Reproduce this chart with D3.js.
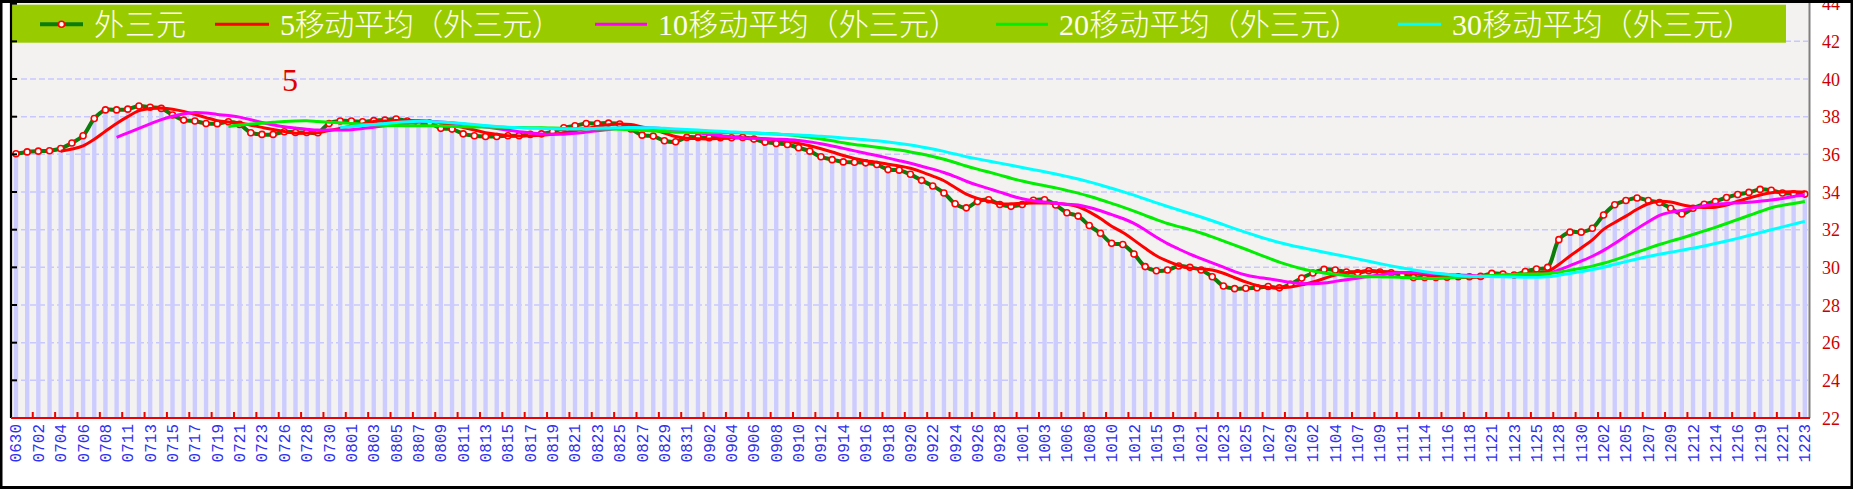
<!DOCTYPE html>
<html><head><meta charset="utf-8">
<script src="https://cdn.jsdelivr.net/npm/d3@7/dist/d3.min.js"></script>
<style>html,body{margin:0;padding:0;background:#fff;overflow:hidden}</style>
</head><body><svg id="c" width="1853" height="489"></svg>
<script>
// ---- data ----
const tickLabels = ["0630","0702","0704","0706","0708","0711","0713","0715","0717","0719","0721","0723","0726","0728","0730","0801","0803","0805","0807","0809","0811","0813","0815","0817","0819","0821","0823","0825","0827","0829","0831","0902","0904","0906","0908","0910","0912","0914","0916","0918","0920","0922","0924","0926","0928","1001","1003","1006","1008","1010","1012","1015","1019","1021","1023","1025","1027","1029","1102","1104","1107","1109","1111","1114","1116","1118","1121","1123","1125","1128","1130","1202","1205","1207","1209","1212","1214","1216","1219","1221","1223"];
const values = [36.03,36.13,36.17,36.19,36.31,36.6,36.99,37.9,38.36,38.36,
38.4,38.57,38.5,38.44,38.09,37.82,37.77,37.64,37.63,37.73,
37.59,37.15,37.06,37.06,37.2,37.16,37.16,37.15,37.64,37.77,
37.77,37.73,37.79,37.82,37.88,37.77,37.66,37.66,37.38,37.34,
37.09,36.99,36.95,36.95,36.99,36.99,37.06,37.09,37.2,37.41,
37.52,37.64,37.64,37.66,37.61,37.35,37.02,36.97,36.72,36.67,
36.9,36.9,36.88,36.88,36.88,36.9,36.81,36.65,36.58,36.52,
36.35,36.17,35.87,35.72,35.6,35.58,35.55,35.46,35.19,35.16,
34.94,34.62,34.32,33.95,33.38,33.16,33.5,33.59,33.34,33.24,
33.34,33.56,33.59,33.31,32.9,32.72,32.22,31.81,31.28,31.21,
30.71,30.04,29.82,29.86,30.07,30.0,29.86,29.5,29.01,28.87,
28.89,28.92,28.98,28.91,29.1,29.43,29.7,29.89,29.86,29.75,
29.71,29.82,29.75,29.71,29.59,29.46,29.46,29.46,29.48,29.5,
29.5,29.52,29.68,29.64,29.59,29.78,29.91,30.0,31.47,31.87,
31.87,32.08,32.78,33.32,33.55,33.68,33.55,33.44,33.14,32.83,
33.14,33.35,33.5,33.71,33.87,33.98,34.14,34.09,33.95,33.91,
33.89];
const maPeriods = [5, 10, 20, 30];
const seriesNames = ["外三元","5移动平均（外三元）","10移动平均（外三元）","20移动平均（外三元）","30移动平均（外三元）"];
const yTickValues = [22,24,26,28,30,32,34,36,38,40,42,44];
const annotation = "5";

// ---- styles ----
const maColors = ["#ff0000","#ff00ff","#00ee00","#00ffff"];
const mainColor = "#0b7d0b";

const svg = d3.select("#c");
const W = 1853, H = 489;
const plotL = 10.4, plotR = 1810.4, plotT = 3.7, plotB = 418;

const categories = d3.range(values.length);
const x = d3.scaleBand().domain(categories).range([plotL, plotR]).padding(0);
const y = d3.scaleLinear().domain([22, 44]).range([plotB, plotT]);
const cx = i => x(i) + x.bandwidth() / 2;

svg.append("rect").attr("width", W).attr("height", H).attr("fill", "#fff");
svg.append("rect").attr("x", 11).attr("y", 3).attr("width", 1798).attr("height", plotB - 3).attr("fill", "#f4f2f1");

// gridlines
svg.append("g").selectAll("line").data(yTickValues.filter(v => v > 22 && v < 44)).join("line")
  .attr("x1", 12).attr("x2", 1808).attr("y1", d => y(d)).attr("y2", d => y(d))
  .attr("stroke", "#c8c8ff").attr("stroke-width", 1.5).attr("stroke-dasharray", "6,3");

// bars
svg.append("g").selectAll("rect").data(values).join("rect")
  .attr("x", (d, i) => cx(i) - 2.2).attr("width", 4.4)
  .attr("y", d => y(d)).attr("height", d => plotB - y(d))
  .attr("fill", "#ccccff");

// main line
const line = d3.line().x((d, i) => cx(i)).y(d => y(d)).curve(d3.curveCatmullRom.alpha(0.5));
svg.append("path").attr("d", line(values)).attr("fill", "none")
  .attr("stroke", mainColor).attr("stroke-width", 4);
svg.append("g").selectAll("circle").data(values).join("circle")
  .attr("cx", (d, i) => cx(i)).attr("cy", d => y(d)).attr("r", 3)
  .attr("fill", "#fff").attr("stroke", "#ff0000").attr("stroke-width", 1.6);

// moving averages (trendlines of the series)
function movingAvg(arr, n) {
  const out = [];
  for (let i = n - 1; i < arr.length; i++) out.push({i, v: d3.mean(arr.slice(i - n + 1, i + 1))});
  return out;
}
const maLine = d3.line().x(d => cx(d.i)).y(d => y(d.v)).curve(d3.curveCatmullRom.alpha(0.5));
maPeriods.forEach((n, k) => {
  svg.append("path").attr("d", maLine(movingAvg(values, n))).attr("fill", "none")
    .attr("stroke", maColors[k]).attr("stroke-width", 3);
});

// legend
const lg = svg.append("g");
lg.append("rect").attr("x", 12).attr("y", 4.7).attr("width", 1774).attr("height", 38).attr("fill", "#99cc00");
const legX = [40, 215, 595, 996, 1398];
const legLen = [43, 54, 52, 52, 43];
const txtLen = [92, 282, 301, 301, 301];
const legY = 24.3;
seriesNames.forEach((name, k) => {
  const x0 = legX[k], x1 = x0 + legLen[k];
  lg.append("line").attr("x1", x0).attr("x2", x1).attr("y1", legY).attr("y2", legY)
    .attr("stroke", k === 0 ? mainColor : maColors[k - 1]).attr("stroke-width", k === 0 ? 4 : 3);
  if (k === 0) lg.append("circle").attr("cx", (x0 + x1) / 2).attr("cy", legY).attr("r", 3)
    .attr("fill", "#fff").attr("stroke", "#ff0000").attr("stroke-width", 1.6);
  lg.append("text").attr("x", x1 + 11).attr("y", 35)
    .attr("textLength", txtLen[k]).attr("lengthAdjust", "spacing")
    .attr("font-family", "'Liberation Serif','Noto Sans CJK SC'").attr("font-weight", 300)
    .attr("font-size", 30).attr("fill", "#fffff2").text(name);
});

// annotation
svg.append("text").attr("x", 290).attr("y", 91).attr("text-anchor", "middle")
  .attr("font-family", "'Liberation Serif'").attr("font-size", 32).attr("fill", "#e00000").text(annotation);

// left axis (black)
svg.append("line").attr("x1", 11).attr("x2", 11).attr("y1", 3).attr("y2", plotB).attr("stroke", "#000").attr("stroke-width", 2.2);
svg.append("g").selectAll("line").data(yTickValues.filter(v => v > 22)).join("line")
  .attr("x1", 11).attr("x2", 17).attr("y1", d => y(d)).attr("y2", d => y(d))
  .attr("stroke", "#000").attr("stroke-width", 2);

// right border (gray)
svg.append("line").attr("x1", 1809.5).attr("x2", 1809.5).attr("y1", 3).attr("y2", plotB).attr("stroke", "#808080").attr("stroke-width", 2);

// bottom axis (red)
svg.append("line").attr("x1", 11).attr("x2", 1810).attr("y1", plotB).attr("y2", plotB).attr("stroke", "#ee0000").attr("stroke-width", 2);
svg.append("g").selectAll("line").data(categories.filter(i => i % 2 === 0 && i > 0)).join("line")
  .attr("x1", d => x(d)).attr("x2", d => x(d)).attr("y1", plotB).attr("y2", plotB - 6)
  .attr("stroke", "#ee0000").attr("stroke-width", 2);

// x labels (every other category)
svg.append("g").selectAll("text").data(tickLabels).join("text")
  .attr("transform", (d, k) => `translate(${cx(k * 2) + 5.5},${plotB + 6}) rotate(-90)`)
  .attr("text-anchor", "end")
  .attr("font-family", "'Liberation Mono'").attr("font-size", 16).attr("fill", "#3030f0").text(d => d);

// right y labels (red)
svg.append("g").selectAll("text").data(yTickValues).join("text")
  .attr("x", 1831).attr("y", d => y(d) + 6.5).attr("text-anchor", "middle")
  .attr("font-family", "'Liberation Serif'").attr("font-size", 18).attr("fill", "#cc0000").text(d => d);

// outer frame
svg.append("rect").attr("x", 1).attr("y", 1.5).attr("width", W - 2).attr("height", H - 3)
  .attr("fill", "none").attr("stroke", "#000").attr("stroke-width", 3);
</script></body></html>
